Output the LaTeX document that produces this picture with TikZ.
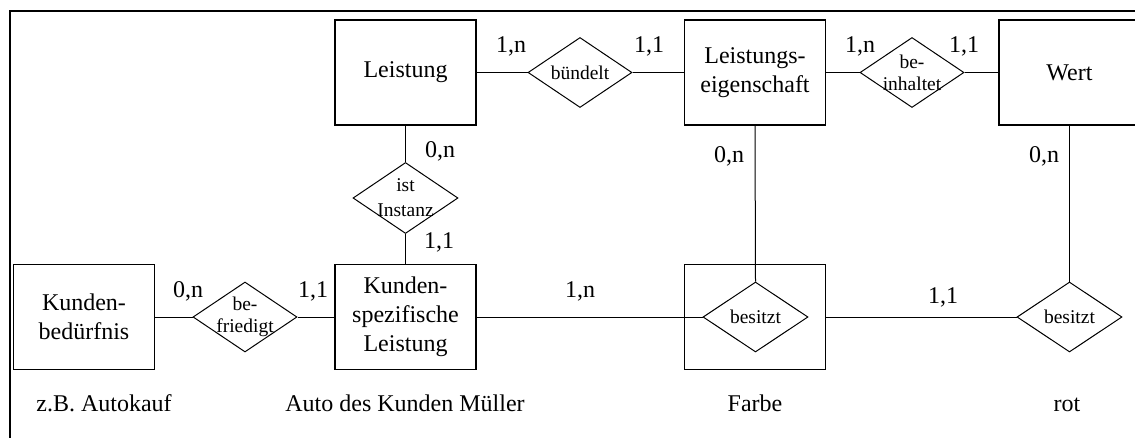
\documentclass[tikz,border=0pt]{standalone}
\usepackage{fontspec}
\setmainfont{Liberation Serif}
\usetikzlibrary{shapes.geometric}
\begin{document}
\begin{tikzpicture}[x=1pt,y=-1pt,
  entity/.style={draw, line width=1.5pt, minimum width=141pt, minimum height=105pt,
    inner sep=0pt, align=center, font=\fontsize{24}{29}\selectfont},
  rel/.style={draw, shape=diamond, line width=1pt, minimum width=104pt,
    minimum height=70pt, inner sep=0pt},
  reltext/.style={align=center, inner sep=0pt, font=\fontsize{19.5}{22}\selectfont},
  card/.style={anchor=base, inner sep=0pt, font=\fontsize{24}{29}\selectfont},
  conn/.style={line width=1pt},
]
\useasboundingbox (0,0) rectangle (1135,437);
\clip (0,0) rectangle (1135,437);
% outer frame
\draw[line width=2pt] (9.7,11) rectangle (1170,480);

% entities
\node[entity] (leist) at (405.5,72.5) {Leistung};
\node[entity] (leig)  at (755,72.5)   {Leistungs-\\eigenschaft};
\node[entity] (wert)  at (1069.5,72.5) {Wert};
\node[entity] (kbed)  at (84,317)     {Kunden-\\bedürfnis};
\node[entity] (kspez) at (405.5,317)  {Kunden-\\spezifische\\Leistung};
\node[entity] (farbe) at (755,317)    {};

% relationships
\node[rel] (buend) at (580,72.5) {};
\node[reltext] at (buend) {bündelt};
\node[rel] (binh) at (912,72.5) {};
\node[reltext] at (binh) {be-\\inhaltet};
\node[rel, minimum width=105pt, minimum height=71pt] (inst) at (405.5,198) {};
\node[reltext, font=\fontsize{19.5}{25}\selectfont] at (inst) {ist\\Instanz};
\node[rel] (befr) at (245,317) {};
\node[reltext] at (befr) {be-\\friedigt};
\node[rel, minimum width=105pt] (bes1) at (755.5,317) {};
\node[reltext] at (bes1) {besitzt};
\node[rel, minimum width=105pt] (bes2) at (1069.5,317) {};
\node[reltext] at (bes2) {besitzt};

% connectors
\draw[conn] (leist.east) -- (buend.west);
\draw[conn] (buend.east) -- (leig.west);
\draw[conn] (leig.east) -- (binh.west);
\draw[conn] (binh.east) -- (wert.west);
\draw[conn] (leist.south) -- (inst.north);
\draw[conn] (inst.south) -- (kspez.north);
\draw[conn] (kbed.east) -- (befr.west);
\draw[conn] (befr.east) -- (kspez.west);
\draw[conn] (kspez.east) -- (bes1.west);
\draw[conn] (farbe.east) -- (bes2.west);
\draw[conn] (leig.south) -- (bes1.north);
\draw[conn] (wert.south) -- (bes2.north);

% cardinalities
\node[card] (c1) at (511,52) {1,n};
\node[card] (c2) at (649,52) {1,1};
\node[card] (c3) at (860,52) {1,n};
\node[card] (c4) at (964,52) {1,1};
\node[card] (c5) at (440,157) {0,n};
\node[card] (c6) at (729,162) {0,n};
\node[card] (c7) at (1044,162) {0,n};
\node[card] (c8) at (439,248) {1,1};
\node[card] (c9) at (188,297) {0,n};
\node[card] (c10) at (313,297) {1,1};
\node[card] (c11) at (580,297) {1,n};
\node[card] (c12) at (943,303) {1,1};

% examples
\node[card] (e1) at (104,411) {z.B. Autokauf};
\node[card] (e2) at (405,411) {Auto des Kunden Müller};
\node[card] (e3) at (755,411) {Farbe};
\node[card] (e4) at (1067,411) {rot};
\end{tikzpicture}
\end{document}
